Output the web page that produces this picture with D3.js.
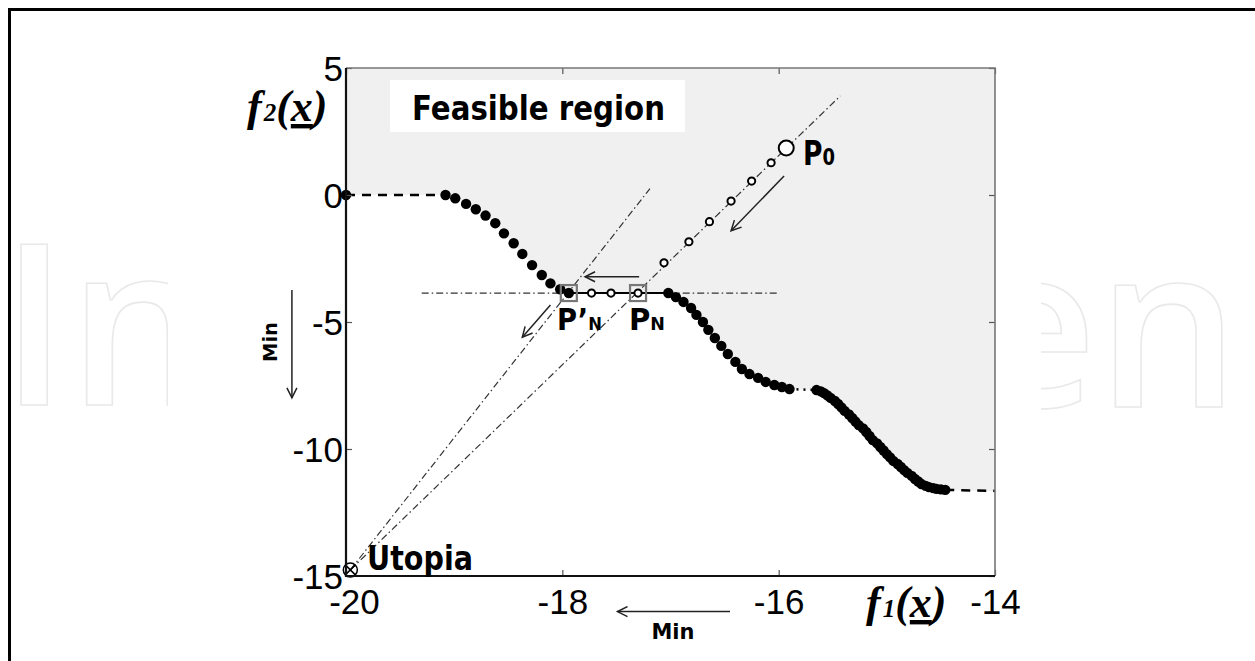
<!DOCTYPE html>
<html>
<head>
<meta charset="utf-8">
<script src="https://cdn.jsdelivr.net/npm/d3@7"></script>
<style>
  body { margin: 0; background: #fff; }
  svg { display: block; }
</style>
</head>
<body>
<div id="chart"></div>
<script>
// size of the page (same as the reference)
var w = 1255;
var h = 661;

// tick labels
var xTicks = [-20, -18, -16, -14];
var yTicks = [5, 0, -5, -10, -15];

// pareto front (f1, f2)
var startPoint = [-20, 0];
var frontA = [[-19.08, 0], [-18.99, -0.13], [-18.89, -0.35], [-18.80, -0.56], [-18.71, -0.81],
              [-18.62, -1.11], [-18.54, -1.51], [-18.45, -1.90], [-18.37, -2.32], [-18.28, -2.76],
              [-18.19, -3.15], [-18.11, -3.48], [-18.02, -3.71], [-17.94, -3.86]];
var frontB = [[-17.02, -3.86], [-16.95, -4.02], [-16.88, -4.21], [-16.81, -4.45], [-16.76, -4.72],
              [-16.70, -5.00], [-16.65, -5.31], [-16.59, -5.63], [-16.53, -5.94], [-16.47, -6.26],
              [-16.40, -6.57], [-16.34, -6.85], [-16.27, -7.05], [-16.19, -7.20], [-16.12, -7.36],
              [-16.04, -7.48], [-15.97, -7.56], [-15.90, -7.64]];
var frontC = [[-15.65, -7.68], [-15.61, -7.73], [-15.58, -7.80], [-15.55, -7.89], [-15.52, -7.99],
              [-15.48, -8.11], [-15.45, -8.23], [-15.42, -8.36], [-15.39, -8.50], [-15.35, -8.64],
              [-15.32, -8.78], [-15.29, -8.92], [-15.26, -9.06], [-15.22, -9.19], [-15.19, -9.33],
              [-15.16, -9.49], [-15.13, -9.65], [-15.09, -9.78], [-15.06, -9.92], [-15.03, -10.06],
              [-15.00, -10.20], [-14.97, -10.33], [-14.94, -10.47], [-14.90, -10.59], [-14.87, -10.71],
              [-14.84, -10.83], [-14.81, -10.94], [-14.77, -11.06], [-14.74, -11.18], [-14.71, -11.28],
              [-14.68, -11.38], [-14.64, -11.45], [-14.61, -11.50], [-14.57, -11.54], [-14.54, -11.57],
              [-14.50, -11.59], [-14.46, -11.61]];
var endPoint = [-14, -11.65];

// search points
var utopia = [-19.96, -14.76];
var p0 = [-15.93, 1.85];
var searchPts = [[-17.06, -2.67], [-16.83, -1.84], [-16.64, -1.05], [-16.44, -0.24], [-16.25, 0.55], [-16.07, 1.27]];
var pN = [-17.30, -3.86];
var pN2 = [-17.94, -3.86];
var shiftPts = [[-17.73, -3.86], [-17.55, -3.86], [-17.30, -3.86]];

// construction lines
var rayN = [utopia, [-15.43, 3.9]];
var rayN2 = [utopia, [-17.19, 0.25]];
var hLine = [[-19.30, -3.86], [-15.99, -3.86]];

// arrows [from, to]
var arrows = [[[-15.95, 0.75], [-16.44, -1.41]],
              [[-17.29, -3.22], [-17.79, -3.22]],
              [[-18.11, -4.33], [-18.37, -5.60]],
              [[-20.50, -3.74], [-20.50, -7.99]],
              [[-16.45, -16.40], [-17.49, -16.40]]];

var svg = d3.select('#chart').append('svg')
    .attr('width', w)
    .attr('height', h);

var x = d3.scaleLinear().domain([-20, -14]).range([346, 995]);
var y = d3.scaleLinear().domain([-15, 5]).range([576, 68]);

var line = d3.line()
    .x(function(d) { return x(d[0]); })
    .y(function(d) { return y(d[1]); });

// faint watermark behind the figure
var wm = svg.append('g')
    .attr('font-family', 'Open Sans')
    .attr('font-weight', 600)
    .attr('font-size', 224)
    .attr('fill', '#fff')
    .attr('stroke', '#e9e9e9')
    .attr('stroke-width', 1.6);
wm.append('text').attr('x', 0).attr('y', 405).text('In');
wm.append('text').attr('x', 968).attr('y', 407).text('en');

svg.append('rect')
    .attr('x', 168).attr('y', 11)
    .attr('width', 1041 - 168).attr('height', h - 11)
    .attr('fill', '#fff');

// outer frame (left and top only visible)
svg.append('path')
    .attr('d', 'M9.5,' + h + 'V9.5H' + w)
    .attr('fill', 'none')
    .attr('stroke', '#000')
    .attr('stroke-width', 3);

// feasible region
var region = [[-20, 5], startPoint].concat(frontA, frontB, frontC, [endPoint, [-14, 5]]);
svg.append('path')
    .attr('d', line(region) + 'Z')
    .attr('fill', '#f0f0f0');

// label box
svg.append('rect')
    .attr('x', 390).attr('y', 80)
    .attr('width', 295).attr('height', 52)
    .attr('fill', '#fff');

// dash-dot construction lines
svg.selectAll('.cons')
    .data([rayN, rayN2, hLine])
  .enter().append('path')
    .attr('class', 'cons')
    .attr('d', line)
    .attr('fill', 'none')
    .attr('stroke', '#333')
    .attr('stroke-width', 1.2)
    .attr('stroke-dasharray', '7,3,1.5,3');

// dashed ends of the front
svg.selectAll('.dash')
    .data([[startPoint, frontA[0]], [frontC[frontC.length - 1], endPoint]])
  .enter().append('path')
    .attr('class', 'dash')
    .attr('d', line)
    .attr('fill', 'none')
    .attr('stroke', '#000')
    .attr('stroke-width', 2.5)
    .attr('stroke-dasharray', '9,7');

svg.append('path')
    .attr('d', line([frontB[frontB.length - 1], frontC[0]]))
    .attr('stroke', '#000')
    .attr('stroke-width', 2.5)
    .attr('stroke-dasharray', '2,5');

svg.append('path')
    .attr('d', line([pN2, frontB[0]]))
    .attr('stroke', '#000')
    .attr('stroke-width', 2);

// front points
svg.selectAll('.front')
    .data([startPoint].concat(frontA, frontB, frontC))
  .enter().append('circle')
    .attr('class', 'front')
    .attr('cx', function(d) { return x(d[0]); })
    .attr('cy', function(d) { return y(d[1]); })
    .attr('r', 5.2)
    .attr('fill', '#000');

// squares round P'N and PN
svg.selectAll('.sq')
    .data([pN2, pN])
  .enter().append('rect')
    .attr('class', 'sq')
    .attr('x', function(d) { return x(d[0]) - 8; })
    .attr('y', function(d) { return y(d[1]) - 8; })
    .attr('width', 16).attr('height', 16)
    .attr('fill', 'none')
    .attr('stroke', '#777')
    .attr('stroke-width', 2.2);

// small open circles
svg.selectAll('.search')
    .data(searchPts.concat(shiftPts))
  .enter().append('circle')
    .attr('class', 'search')
    .attr('cx', function(d) { return x(d[0]); })
    .attr('cy', function(d) { return y(d[1]); })
    .attr('r', 3.6)
    .attr('fill', '#fff')
    .attr('stroke', '#000')
    .attr('stroke-width', 2);

svg.append('circle')
    .attr('cx', x(p0[0])).attr('cy', y(p0[1]))
    .attr('r', 7.5)
    .attr('fill', '#fff')
    .attr('stroke', '#000')
    .attr('stroke-width', 2);

// utopia marker
var ut = svg.append('g')
    .attr('transform', 'translate(' + x(utopia[0]) + ',' + y(utopia[1]) + ')')
    .attr('stroke', '#000')
    .attr('stroke-width', 1.5)
    .attr('fill', 'none');
ut.append('circle').attr('r', 7);
ut.append('path').attr('d', 'M-5,-5L5,5M-5,5L5,-5');

// arrows
svg.append('defs').append('marker')
    .attr('id', 'head')
    .attr('markerUnits', 'userSpaceOnUse')
    .attr('viewBox', '-12 -6 14 12')
    .attr('markerWidth', 14).attr('markerHeight', 12)
    .attr('refX', 0).attr('refY', 0)
    .attr('orient', 'auto')
  .append('path')
    .attr('d', 'M-10,-5L0,0L-10,5')
    .attr('fill', 'none')
    .attr('stroke', '#222')
    .attr('stroke-width', 1.5);

svg.selectAll('.arrow')
    .data(arrows)
  .enter().append('path')
    .attr('class', 'arrow')
    .attr('d', line)
    .attr('stroke', '#222')
    .attr('stroke-width', 1.5)
    .attr('marker-end', 'url(#head)');

// axes
var plain = function(d) { return String(d); };
var none = function() { return ''; };
var axL = svg.append('g')
    .attr('transform', 'translate(' + x(-20) + ',0)')
    .call(d3.axisLeft(y).tickValues(yTicks).tickFormat(plain).tickSizeInner(-6).tickSizeOuter(0).tickPadding(3));
var axB = svg.append('g')
    .attr('transform', 'translate(0,' + y(-15) + ')')
    .call(d3.axisBottom(x).tickValues(xTicks).tickFormat(plain).tickSizeInner(-6).tickSizeOuter(0).tickPadding(13));
var axR = svg.append('g')
    .attr('transform', 'translate(' + x(-14) + ',0)')
    .call(d3.axisRight(y).tickValues(yTicks).tickSizeInner(-6).tickSizeOuter(0).tickFormat(none));
var axT = svg.append('g')
    .attr('transform', 'translate(0,' + y(5) + ')')
    .call(d3.axisTop(x).tickValues(xTicks).tickSizeInner(-6).tickSizeOuter(0).tickFormat(none));

[axL, axB, axR, axT].forEach(function(a) {
    a.select('.domain').remove();
    a.attr('font-family', 'Liberation Sans, Arial, sans-serif')
     .attr('font-size', 35);
    a.selectAll('line').attr('stroke', '#555').attr('stroke-width', 1.2);
    a.selectAll('text').attr('fill', '#000');
});
axL.selectAll('text').attr('dy', '0.36em');
axB.selectAll('text').attr('dx', function(d) { return d === -20 ? 8 : 0; });

// plot frame
svg.append('path')
    .attr('d', 'M' + x(-20) + ',' + y(5) + 'H' + x(-14) + 'V' + y(-15))
    .attr('fill', 'none')
    .attr('stroke', '#777')
    .attr('stroke-width', 1.6);
svg.append('path')
    .attr('d', 'M' + x(-20) + ',' + y(5) + 'V' + y(-15) + 'H' + x(-14))
    .attr('fill', 'none')
    .attr('stroke', '#111')
    .attr('stroke-width', 2.2);

// text labels
var comic = 'DejaVu Sans, Verdana, sans-serif';

svg.append('text')
    .attr('x', 412).attr('y', 120)
    .attr('font-family', comic).attr('font-weight', 'bold').attr('font-size', 34)
    .attr('textLength', 253).attr('lengthAdjust', 'spacingAndGlyphs')
    .text('Feasible region');

svg.append('text')
    .attr('x', 367).attr('y', 570)
    .attr('font-family', comic).attr('font-weight', 'bold').attr('font-size', 33)
    .attr('textLength', 106).attr('lengthAdjust', 'spacingAndGlyphs')
    .text('Utopia');

// point labels: squeezed horizontally to the width seen in the picture
function pointLabel(px, py, main, sub, bigSize, smallSize, len) {
    var t = svg.append('text')
        .attr('font-family', comic).attr('font-weight', 'bold');
    t.append('tspan').attr('font-size', bigSize).text(main);
    t.append('tspan').attr('font-size', smallSize).text(sub);
    var k = len / t.node().getComputedTextLength();
    t.attr('transform', 'translate(' + px + ',' + py + ') scale(' + k + ',1)');
}
pointLabel(803, 165, 'P', '0', 34, 23, 32);
pointLabel(557, 330, 'P\u2019', 'N', 30, 18, 45);
pointLabel(629, 330, 'P', 'N', 30, 18, 36);

// axis titles
function axisTitle(px, py, sub) {
    var t = svg.append('text')
        .attr('x', px).attr('y', py)
        .attr('font-family', 'Liberation Serif, Times New Roman, serif')
        .attr('font-style', 'italic').attr('font-weight', 'bold')
        .attr('font-size', 44);
    t.append('tspan').text('f');
    t.append('tspan').attr('font-size', 25).attr('dx', 2).text(sub);
    t.append('tspan').text('(');
    t.append('tspan').attr('text-decoration', 'underline').text('x');
    t.append('tspan').text(')');
}
axisTitle(247, 121, '2');
axisTitle(866, 617, '1');

// "Min" notes
svg.append('text')
    .attr('transform', 'translate(277,342) rotate(-90)')
    .attr('text-anchor', 'middle')
    .attr('font-family', comic).attr('font-weight', 'bold').attr('font-size', 20)
    .attr('textLength', 40).attr('lengthAdjust', 'spacingAndGlyphs')
    .text('Min');
svg.append('text')
    .attr('x', 673).attr('y', 639)
    .attr('text-anchor', 'middle')
    .attr('font-family', comic).attr('font-weight', 'bold').attr('font-size', 21)
    .attr('textLength', 43).attr('lengthAdjust', 'spacingAndGlyphs')
    .text('Min');
</script>
</body>
</html>
